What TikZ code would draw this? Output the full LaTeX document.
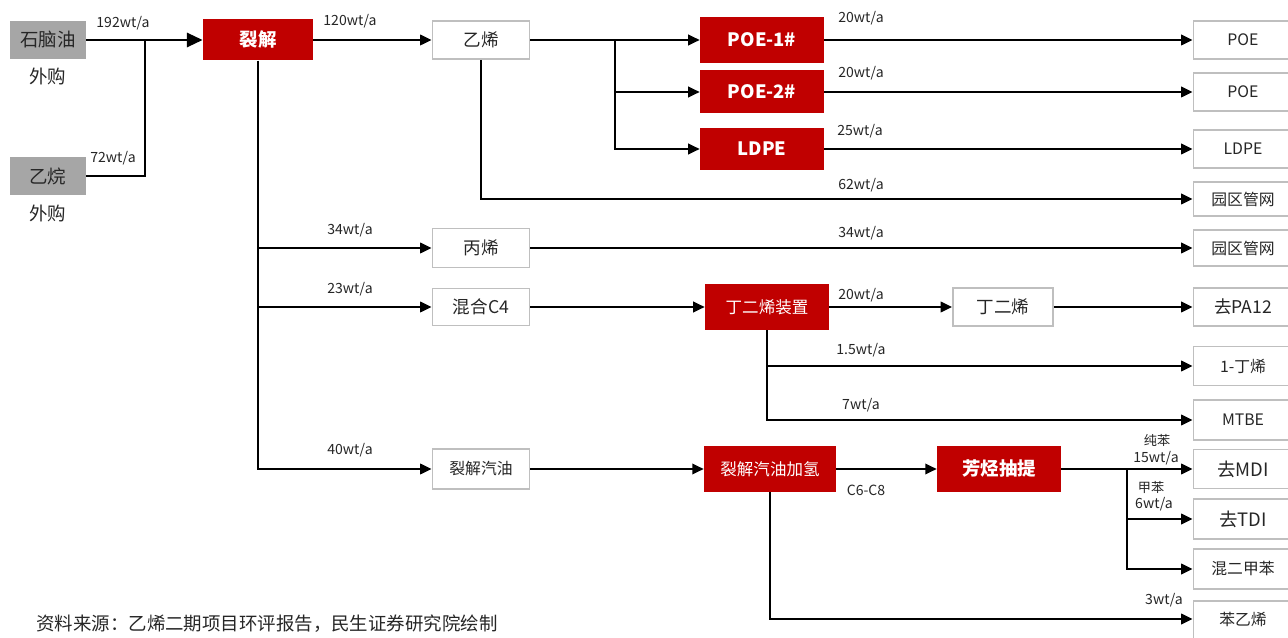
\documentclass[tikz,border=0pt]{standalone}
\usepackage{fontspec}
\setmainfont{Noto Sans CJK SC}
\usetikzlibrary{arrows.meta}
\definecolor{rd}{HTML}{C00000}
\definecolor{gy}{HTML}{A6A6A6}
\definecolor{bd}{HTML}{BFBFBF}
\definecolor{tx}{HTML}{262626}
\tikzset{
  box/.style={inner sep=0pt, align=center, text=tx},
  gbox/.style={box, fill=gy, minimum width=1.52cm, minimum height=0.76cm, font=\fontsize{10.5}{12}\selectfont},
  rbox/.style={box, fill=rd, text=white, font=\fontsize{10.5}{12}\selectfont\bfseries},
  rboxn/.style={box, fill=rd, text=white, font=\fontsize{9.4}{11}\selectfont},
  wbox/.style={box, draw=bd, line width=1.1pt, fill=white, minimum width=1.94cm, font=\fontsize{10}{12}\selectfont},
  obox/.style={box, draw=bd, line width=1.1pt, fill=white, minimum width=1.98cm, font=\fontsize{9}{11}\selectfont},
  lbl/.style={inner sep=0pt, text=tx, font=\fontsize{8}{9.5}\selectfont, align=center},
  conn/.style={line width=1.1pt, black},
  arr/.style={conn, -{Triangle[length=6.5pt,width=6pt]}},
}
\begin{document}
\begin{tikzpicture}[x=0.02cm,y=-0.02cm]
\useasboundingbox (0,0) rectangle (1288,638);
% sources
\node[gbox] (naph) at (48,40) {石脑油};
\node[gbox] (eth) at (48,176) {乙烷};
\node[lbl, font=\fontsize{10.5}{12}\selectfont] (wg1) at (48,76) {外购};
\node[lbl, font=\fontsize{10.5}{12}\selectfont] (wg2) at (48,213) {外购};
% main units
\node[rbox, minimum width=2.2cm, minimum height=0.82cm] (crack) at (258,40) {裂解};
\node[wbox, minimum height=0.76cm] (ethy) at (481,40) {乙烯};
\node[rbox, minimum width=2.48cm, minimum height=0.92cm] (poe1) at (762,40) {POE-1\#};
\node[rbox, minimum width=2.48cm, minimum height=0.86cm] (poe2) at (762,92) {POE-2\#};
\node[rbox, minimum width=2.48cm, minimum height=0.86cm] (ldpe) at (762,149) {LDPE};
\node[wbox, minimum height=0.78cm] (prop) at (481,248) {丙烯};
\node[wbox, minimum height=0.74cm] (c4) at (481,307) {混合C4};
\node[rboxn, minimum width=2.48cm, minimum height=0.92cm] (bdu) at (767,307) {丁二烯装置};
\node[wbox, minimum width=2.0cm, minimum height=0.76cm] (bdn) at (1003,307) {丁二烯};
\node[wbox, minimum height=0.8cm, font=\fontsize{9}{11}\selectfont] (pyg) at (481,469) {裂解汽油};
\node[rboxn, minimum width=2.64cm, minimum height=0.92cm] (hyd) at (770,469) {裂解汽油加氢};
\node[rbox, minimum width=2.48cm, minimum height=0.92cm] (aro) at (999,469) {芳烃抽提};
% outputs
\node[obox, minimum height=0.76cm] (o1) at (1243,40) {POE};
\node[obox, minimum height=0.76cm] (o2) at (1243,92) {POE};
\node[obox, minimum height=0.76cm] (o3) at (1243,149) {LDPE};
\node[obox, minimum height=0.68cm] (o4) at (1243,199) {园区管网};
\node[obox, minimum height=0.72cm] (o5) at (1243,248) {园区管网};
\node[obox, minimum height=0.76cm, font=\fontsize{10}{12}\selectfont] (o6) at (1243,307) {去PA12};
\node[obox, minimum height=0.78cm] (o7) at (1243,366) {1-丁烯};
\node[obox, minimum height=0.8cm] (o8) at (1243,420) {MTBE};
\node[obox, minimum height=0.78cm, font=\fontsize{10.5}{12}\selectfont] (o9) at (1243,469) {去MDI};
\node[obox, minimum height=0.8cm, font=\fontsize{10.5}{12}\selectfont] (o10) at (1243,519) {去TDI};
\node[obox, minimum height=0.8cm] (o11) at (1243,569) {混二甲苯};
\node[obox, minimum height=0.8cm, anchor=north] (o12) at (1243,600) {};
\node[lbl, font=\fontsize{9}{11}\selectfont] (o12t) at (1243,619) {苯乙烯};
% junctions
\coordinate (j1) at (145,40);
\coordinate (j2) at (615,40);
\coordinate (j3) at (1127,469);
% connectors
\draw[conn] (naph.east) -- (j1);
\draw[conn] (eth.east) -| (j1);
\draw[conn, line width=1.7pt, -{Triangle[length=9pt,width=8pt]}] (j1) -- (crack.west);
\draw[arr] (crack.east) -- (ethy.west);
\draw[arr] (ethy.east) -- (poe1.west);
\draw[arr] (j2) |- (poe2.west);
\draw[arr] (j2) |- (ldpe.west);
\draw[arr] (poe1.east) -- (o1.west);
\draw[arr] (poe2.east) -- (o2.west);
\draw[arr] (ldpe.east) -- (o3.west);
\draw[arr] (ethy.south) |- (o4.west);
\draw[arr] (crack.south) |- (prop.west);
\draw[arr] (crack.south) |- (c4.west);
\draw[arr] (crack.south) |- (pyg.west);
\draw[arr] (prop.east) -- (o5.west);
\draw[arr] (c4.east) -- (bdu.west);
\draw[arr] (bdu.east) -- (bdn.west);
\draw[arr] (bdn.east) -- (o6.west);
\draw[arr] (bdu.south) |- (o7.west);
\draw[arr] (bdu.south) |- (o8.west);
\draw[arr] (pyg.east) -- (hyd.west);
\draw[arr] (hyd.east) -- (aro.west);
\draw[arr] (aro.east) -- (o9.west);
\draw[arr] (j3) |- (o10.west);
\draw[arr] (j3) |- (o11.west);
\draw[arr] (hyd.south) |- (o12.west |- o12t);
% labels
\node[lbl] (l1) at (123,23) {192wt/a};
\node[lbl] (l2) at (113,158) {72wt/a};
\node[lbl] (l3) at (350,21) {120wt/a};
\node[lbl] (l4) at (861,18) {20wt/a};
\node[lbl] (l5) at (861,73) {20wt/a};
\node[lbl] (l6) at (860,131) {25wt/a};
\node[lbl] (l7) at (861,185) {62wt/a};
\node[lbl] (l8) at (350,230) {34wt/a};
\node[lbl] (l9) at (861,233) {34wt/a};
\node[lbl] (l10) at (350,289) {23wt/a};
\node[lbl] (l11) at (861,295) {20wt/a};
\node[lbl] (l12) at (861,350) {1.5wt/a};
\node[lbl] (l13) at (861,405) {7wt/a};
\node[lbl] (l14) at (350,450) {40wt/a};
\node[lbl] (l15) at (866,490) {C6-C8};
\node[lbl, font=\fontsize{7.5}{9}\selectfont] (l16) at (1157,440) {纯苯};
\node[lbl] (l17) at (1156,458) {15wt/a};
\node[lbl, font=\fontsize{7.5}{9}\selectfont] (l18) at (1151,487) {甲苯};
\node[lbl] (l19) at (1154,504) {6wt/a};
\node[lbl] (l20) at (1164,600) {3wt/a};
% source note
\node[lbl, anchor=west, font=\fontsize{10.5}{12}\selectfont] (src) at (36,624) {资料来源：乙烯二期项目环评报告，民生证券研究院绘制};
\end{tikzpicture}
\end{document}
